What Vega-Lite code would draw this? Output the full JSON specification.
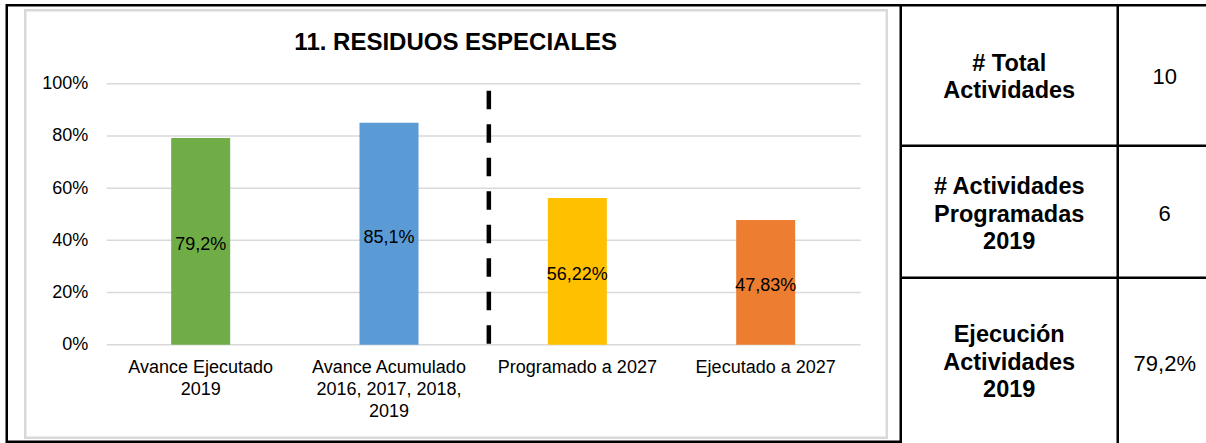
{
  "$schema": "https://vega.github.io/schema/vega-lite/v6.json",
  "background": "white",
  "padding": {"left": 4.75, "top": 3.25, "right": 0, "bottom": 0},
  "spacing": 0,
  "bounds": "flush",
  "config": {
    "font": "Liberation Sans",
    "view": {"stroke": "#000000", "strokeWidth": 2.5},
    "axis": {"labelColor": "#000000", "labelFont": "Liberation Sans"}
  },
  "datasets": {
    "avance": [
      {"categoria": "Avance Ejecutado 2019", "valor": 0.792, "etiqueta": "79,2%"},
      {"categoria": "Avance Acumulado 2016, 2017, 2018, 2019", "valor": 0.851, "etiqueta": "85,1%"},
      {"categoria": "Programado a 2027", "valor": 0.5622, "etiqueta": "56,22%"},
      {"categoria": "Ejecutado a 2027", "valor": 0.4783, "etiqueta": "47,83%"}
    ],
    "cuadricula": [{"v": 0}, {"v": 0.2}, {"v": 0.4}, {"v": 0.6}, {"v": 0.8}, {"v": 1}],
    "tabla": [
      {"fila": 1, "rotulo": "# Total|Actividades", "valor": "10"},
      {"fila": 2, "rotulo": "# Actividades|Programadas|2019", "valor": "6"},
      {"fila": 3, "rotulo": "Ejecución|Actividades|2019", "valor": "79,2%"}
    ]
  },
  "hconcat": [
    {
      "width": 894,
      "height": 436.5,
      "title": {"text": "11. RESIDUOS ESPECIALES", "fontSize": 24, "fontWeight": "bold", "color": "#000000", "anchor": "middle", "offset": -69.2, "baseline": "alphabetic", "dx": 2},
      "resolve": {"scale": {"y": "independent"}},
      "layer": [
        {
          "data": {"values": [{}]},
          "mark": {"type": "rect", "filled": false, "stroke": "#d9d9d9", "strokeWidth": 2.5},
          "encoding": {
            "x": {"datum": "Avance Ejecutado 2019", "type": "nominal", "bandPosition": -2.473, "scale": {"type": "band", "domain": ["Avance Ejecutado 2019", "Avance Acumulado 2016, 2017, 2018, 2019", "Programado a 2027", "Ejecutado a 2027"]}},
            "x2": {"datum": "Ejecutado a 2027", "bandPosition": 2.553},
            "y": {"datum": 1.2816, "type": "quantitative", "scale": {"domain": [-0.37165, 1.30077], "nice": false, "zero": false}, "axis": null},
            "y2": {"datum": -0.3563}
          }
        },
        {
          "data": {"name": "cuadricula"},
          "mark": {"type": "rule", "color": "#d9d9d9", "strokeWidth": 1.5},
          "encoding": {
            "x": {"datum": "Avance Ejecutado 2019", "type": "nominal", "bandPosition": -1.092, "scale": {"type": "band", "domain": ["Avance Ejecutado 2019", "Avance Acumulado 2016, 2017, 2018, 2019", "Programado a 2027", "Ejecutado a 2027"]}},
            "x2": {"datum": "Ejecutado a 2027", "bandPosition": 2.112},
            "y": {"field": "v", "type": "quantitative", "scale": {"domain": [-0.37165, 1.30077], "nice": false, "zero": false}, "axis": null}
          }
        },
        {
          "data": {"name": "avance"},
          "mark": {"type": "bar"},
          "encoding": {
            "x": {
              "field": "categoria", "type": "nominal", "sort": null,
              "scale": {"type": "band", "domain": ["Avance Ejecutado 2019", "Avance Acumulado 2016, 2017, 2018, 2019", "Programado a 2027", "Ejecutado a 2027"], "paddingInner": 0.6867, "paddingOuter": 0.7168, "align": 0.609, "round": false},
              "axis": {"orient": "bottom", "offset": -97, "title": null, "domain": false, "ticks": false, "labelAngle": 0, "labelAlign": "center", "labelBaseline": "alphabetic", "labelFontSize": 18, "labelLineHeight": 22, "labelPadding": 28, "labelLimit": 0, "labelOverlap": false, "labelColor": "#000000",
                "labelExpr": "datum.value == 'Avance Ejecutado 2019' ? ['Avance Ejecutado', '2019'] : datum.value == 'Avance Acumulado 2016, 2017, 2018, 2019' ? ['Avance Acumulado', '2016, 2017, 2018,', '2019'] : datum.label"}
            },
            "y": {
              "field": "valor", "type": "quantitative",
              "scale": {"domain": [-0.37165, 1.30077], "nice": false, "zero": false},
              "axis": {"values": [0, 0.2, 0.4, 0.6, 0.8, 1], "format": ".0%", "offset": -100, "domain": false, "ticks": false, "grid": false, "labelPadding": 19, "labelFontSize": 18, "title": null, "labelColor": "#000000"}
            },
            "color": {"field": "categoria", "type": "nominal", "scale": {"domain": ["Avance Ejecutado 2019", "Avance Acumulado 2016, 2017, 2018, 2019", "Programado a 2027", "Ejecutado a 2027"], "range": ["#70AD47", "#5B9BD5", "#FFC000", "#ED7D31"]}, "legend": null}
          }
        },
        {
          "data": {"name": "avance"},
          "mark": {"type": "text", "fontSize": 18, "baseline": "middle", "color": "#000000", "dy": 4},
          "encoding": {
            "x": {"field": "categoria", "type": "nominal", "scale": {"type": "band", "domain": ["Avance Ejecutado 2019", "Avance Acumulado 2016, 2017, 2018, 2019", "Programado a 2027", "Ejecutado a 2027"]}},
            "y": {"field": "valor", "type": "quantitative", "scale": {"domain": [-0.7433, 2.60154], "nice": false, "zero": false}, "axis": null},
            "text": {"field": "etiqueta"}
          }
        },
        {
          "data": {"values": [{}]},
          "mark": {"type": "rule", "color": "#000000", "strokeWidth": 4.5, "strokeDash": [18.5, 15]},
          "encoding": {
            "x": {"datum": "Programado a 2027", "type": "nominal", "bandPosition": -1.0, "scale": {"type": "band", "domain": ["Avance Ejecutado 2019", "Avance Acumulado 2016, 2017, 2018, 2019", "Programado a 2027", "Ejecutado a 2027"]}},
            "y": {"datum": 0.973, "type": "quantitative", "scale": {"domain": [-0.37165, 1.30077], "nice": false, "zero": false}, "axis": null},
            "y2": {"datum": 0}
          }
        }
      ]
    },
    {
      "width": 306,
      "height": 436.5,
      "view": {"stroke": null},
      "data": {"name": "tabla"},
      "layer": [
        {
          "data": {"values": [{}]},
          "mark": {"type": "rule", "color": "#000000", "strokeWidth": 2.5},
          "encoding": {
            "x": {"datum": "Concepto", "type": "nominal", "bandPosition": -2.986, "scale": {"type": "band", "domain": ["Concepto", "Valor"], "paddingInner": 0.8, "paddingOuter": 0.3836, "align": 0.7784, "round": false}, "axis": null},
            "x2": {"datum": "Valor", "bandPosition": 1.85},
            "y": {"datum": 1, "type": "ordinal", "bandPosition": 0, "scale": {"type": "band", "domain": [1, 2, 3], "paddingInner": 0, "paddingOuter": 0, "round": false}, "axis": null}
          }
        },
        {
          "data": {"values": [{}]},
          "mark": {"type": "rule", "color": "#000000", "strokeWidth": 2.5},
          "encoding": {
            "x": {"datum": "Concepto", "type": "nominal", "bandPosition": -2.986},
            "x2": {"datum": "Valor", "bandPosition": 1.85},
            "y": {"datum": 2, "type": "ordinal", "bandPosition": -0.0344}
          }
        },
        {
          "data": {"values": [{}]},
          "mark": {"type": "rule", "color": "#000000", "strokeWidth": 2.5},
          "encoding": {
            "x": {"datum": "Concepto", "type": "nominal", "bandPosition": -2.986},
            "x2": {"datum": "Valor", "bandPosition": 1.85},
            "y": {"datum": 3, "type": "ordinal", "bandPosition": -0.1271}
          }
        },
        {
          "data": {"values": [{}]},
          "mark": {"type": "rule", "color": "#000000", "strokeWidth": 2.5},
          "encoding": {
            "x": {"datum": "Valor", "type": "nominal", "bandPosition": -1.011},
            "y": {"datum": 1, "type": "ordinal", "bandPosition": 0},
            "y2": {"datum": 3, "bandPosition": 1.0086}
          }
        },
        {
          "transform": [{"filter": "datum.fila == 1"}],
          "mark": {"type": "text", "lineBreak": "|", "fontSize": 23.5, "fontWeight": "bold", "lineHeight": 27.5, "align": "center", "baseline": "alphabetic", "color": "#000000"},
          "encoding": {
            "x": {"datum": "Concepto", "type": "nominal"},
            "y": {"field": "fila", "type": "ordinal", "bandPosition": 0.4502},
            "text": {"field": "rotulo"}
          }
        },
        {
          "transform": [{"filter": "datum.fila == 2"}],
          "mark": {"type": "text", "lineBreak": "|", "fontSize": 23.5, "fontWeight": "bold", "lineHeight": 27.5, "align": "center", "baseline": "alphabetic", "color": "#000000"},
          "encoding": {
            "x": {"datum": "Concepto", "type": "nominal"},
            "y": {"field": "fila", "type": "ordinal", "bandPosition": 0.2976},
            "text": {"field": "rotulo"}
          }
        },
        {
          "transform": [{"filter": "datum.fila == 3"}],
          "mark": {"type": "text", "lineBreak": "|", "fontSize": 23.5, "fontWeight": "bold", "lineHeight": 27.5, "align": "center", "baseline": "alphabetic", "color": "#000000"},
          "encoding": {
            "x": {"datum": "Concepto", "type": "nominal"},
            "y": {"field": "fila", "type": "ordinal", "bandPosition": 0.3175},
            "text": {"field": "rotulo"}
          }
        },
        {
          "transform": [{"filter": "datum.fila == 1"}],
          "mark": {"type": "text", "fontSize": 22, "align": "center", "baseline": "alphabetic", "color": "#000000"},
          "encoding": {
            "x": {"datum": "Valor", "type": "nominal"},
            "y": {"field": "fila", "type": "ordinal", "bandPosition": 0.5416},
            "text": {"field": "valor"}
          }
        },
        {
          "transform": [{"filter": "datum.fila == 2"}],
          "mark": {"type": "text", "fontSize": 22, "align": "center", "baseline": "alphabetic", "color": "#000000"},
          "encoding": {
            "x": {"datum": "Valor", "type": "nominal"},
            "y": {"field": "fila", "type": "ordinal", "bandPosition": 0.4811},
            "text": {"field": "valor"}
          }
        },
        {
          "transform": [{"filter": "datum.fila == 3"}],
          "mark": {"type": "text", "fontSize": 22, "align": "center", "baseline": "alphabetic", "color": "#000000"},
          "encoding": {
            "x": {"datum": "Valor", "type": "nominal"},
            "y": {"field": "fila", "type": "ordinal", "bandPosition": 0.512},
            "text": {"field": "valor"}
          }
        }
      ]
    }
  ]
}
